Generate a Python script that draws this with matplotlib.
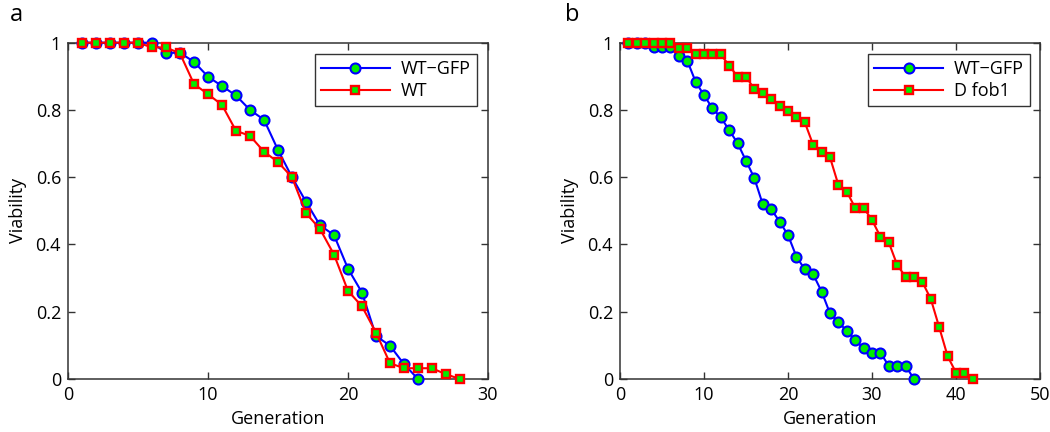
import matplotlib
matplotlib.use("Agg")
import matplotlib.pyplot as plt
import numpy as np

plt.rcParams['font.family'] = ['Open Sans', 'DejaVu Sans']

# Panel a data
a_gen_gfp = list(range(1, 26))
a_wt_gfp = [1.0, 1.0, 1.0, 1.0, 1.0, 1.0, 0.970, 0.970, 0.943, 0.899, 0.871, 0.843,
            0.800, 0.771, 0.681, 0.600, 0.527, 0.457, 0.428, 0.328, 0.257, 0.128,
            0.099, 0.044, 0.0]
a_gen_wt = list(range(1, 29))
a_wt = [1.0, 1.0, 1.0, 1.0, 1.0, 0.986, 0.986, 0.968, 0.877, 0.847, 0.815, 0.738,
        0.723, 0.676, 0.645, 0.600, 0.493, 0.446, 0.370, 0.262, 0.216, 0.138,
        0.047, 0.032, 0.032, 0.032, 0.014, 0.0]

# Panel b data
b_gen_gfp = list(range(1, 36))
b_wt_gfp = [1.0, 1.0, 1.0, 0.986, 0.986, 0.986, 0.960, 0.947, 0.884, 0.844, 0.805,
            0.778, 0.740, 0.701, 0.649, 0.597, 0.519, 0.505, 0.468, 0.428, 0.364,
            0.326, 0.311, 0.260, 0.195, 0.169, 0.143, 0.116, 0.091, 0.078, 0.078,
            0.039, 0.039, 0.039, 0.0]
b_gen_fob = list(range(1, 43))
b_fob = [1.0, 1.0, 1.0, 1.0, 1.0, 1.0, 0.983, 0.983, 0.965, 0.965, 0.965, 0.965,
         0.932, 0.899, 0.899, 0.862, 0.849, 0.832, 0.813, 0.797, 0.778, 0.763,
         0.696, 0.676, 0.659, 0.577, 0.557, 0.509, 0.509, 0.473, 0.423, 0.406,
         0.339, 0.304, 0.304, 0.288, 0.238, 0.154, 0.068, 0.019, 0.019, 0.0]

yticks = [0, 0.2, 0.4, 0.6, 0.8, 1]
ytick_labels = ['0', '0.2', '0.4', '0.6', '0.8', '1']
a_xticks = [0, 10, 20, 30]
b_xticks = [0, 10, 20, 30, 40, 50]

W, H = 1050, 432
fig = plt.figure(figsize=(W / 100, H / 100), dpi=100)

def px_axes(x0, x1, ytop, ybot):
    return fig.add_axes([x0 / W, (H - ybot) / H, (x1 - x0) / W, (ybot - ytop) / H])

axa = px_axes(68, 488, 42.7, 379)
axb = px_axes(620, 1040, 42.7, 379)

spine_col = '#333333'
fs = 13

def style(ax, xticks, xmax):
    ax.set_xlim(0, xmax)
    ax.set_ylim(0, 1)
    ax.set_xticks(xticks)
    ax.set_xticklabels([str(t) for t in xticks])
    ax.set_yticks(yticks)
    ax.set_yticklabels(ytick_labels)
    ax.tick_params(direction='in', length=5, width=1, color=spine_col,
                   top=True, right=True, labelsize=fs, pad=5)
    for s in ax.spines.values():
        s.set_color(spine_col)
        s.set_linewidth(1.1)
    ax.set_xlabel('Generation', fontsize=fs, labelpad=4)
    ax.set_ylabel('Viability', fontsize=fs, labelpad=6)

def plot_blue(ax, x, y, label):
    ax.plot(x, y, '-', color='#0000ff', lw=1.5, marker='o', markersize=7.2,
            markerfacecolor='#00ee00', markeredgecolor='#0000ff', markeredgewidth=1.5,
            label=label, clip_on=False, zorder=3)

def plot_red(ax, x, y, label):
    ax.plot(x, y, '-', color='#ff0000', lw=1.5, marker='s', markersize=6.2,
            markerfacecolor='#00ee00', markeredgecolor='#ff0000', markeredgewidth=1.7,
            label=label, clip_on=False, zorder=3)

plot_blue(axa, a_gen_gfp, a_wt_gfp, 'WT\u2212GFP')
plot_red(axa, a_gen_wt, a_wt, 'WT')
plot_blue(axb, b_gen_gfp, b_wt_gfp, 'WT\u2212GFP')
plot_red(axb, b_gen_fob, b_fob, 'D fob1')

style(axa, a_xticks, 30)
style(axb, b_xticks, 50)

for ax, anchor in ((axa, (0.973, 0.966)), (axb, (0.976, 0.966))):
    leg = ax.legend(loc='upper right', bbox_to_anchor=anchor, borderaxespad=0,
                    fontsize=fs, fancybox=False, framealpha=1, handlelength=3.8,
                    handletextpad=0.6, borderpad=0.35, labelspacing=0.2)
    leg.get_frame().set_edgecolor(spine_col)
    leg.get_frame().set_linewidth(1.0)

fig.text(10 / W, 1 - 15 / H, 'a', fontsize=17, ha='left', va='center')
fig.text(565 / W, 1 - 15 / H, 'b', fontsize=17, ha='left', va='center')

fig.savefig('out.png', dpi=100)
